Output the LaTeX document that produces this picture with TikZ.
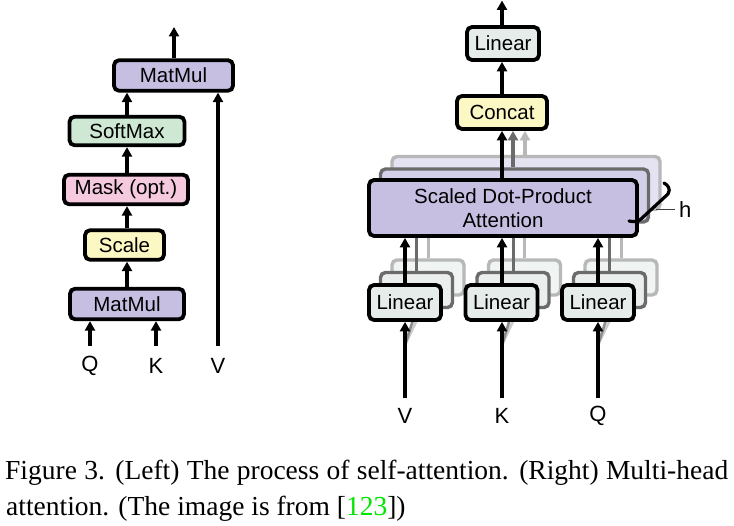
\documentclass[tikz,border=0pt]{standalone}
\usepackage{fontspec}
\setmainfont{Liberation Serif}
\newfontfamily\hv{Liberation Sans}
\usetikzlibrary{arrows.meta}
\definecolor{mmpurple}{RGB}{198,191,226}
\definecolor{smgreen}{RGB}{206,232,211}
\definecolor{mskpink}{RGB}{246,202,222}
\definecolor{sclyellow}{RGB}{252,248,196}
\definecolor{lingray}{RGB}{230,236,234}
\definecolor{refgreen}{RGB}{0,230,0}
\begin{document}
\begin{tikzpicture}[x=1pt,y=-1pt,
  box/.style={draw=black, line width=3.8pt, rounded corners=5pt, inner sep=0pt,
    align=center, font=\hv\fontsize{20.5}{24}\selectfont},
  shadowA/.style={draw=black!58, line width=3.4pt, rounded corners=5pt, inner sep=0pt},
  shadowB/.style={draw=black!28, line width=3.4pt, rounded corners=5pt, inner sep=0pt},
  lbl/.style={font=\hv\fontsize{22}{26}\selectfont, inner sep=0pt},
  arr/.style={line width=3.2pt, -{Triangle[length=9.5pt,width=10pt]}},
  arrA/.style={arr, draw=black!58},
  arrB/.style={arr, draw=black!28},
  captxt/.style={anchor=base west, inner sep=0pt, font=\fontsize{27.5}{35}\selectfont}
]
\useasboundingbox (0,0) rectangle (734,526);
\fill[white] (0,0) rectangle (734,526);

% ---------------- Left: scaled dot-product attention
\node[box, fill=mmpurple, minimum width=119pt, minimum height=30.5pt] (mmtop) at (173.5,75.5) {MatMul};
\node[box, fill=smgreen, minimum width=115pt, minimum height=28.5pt] (sm) at (127,131) {SoftMax};
\node[box, fill=mskpink, minimum width=124pt, minimum height=29.5pt] (mask) at (126,189.5) {Mask (opt.)};
\node[box, fill=sclyellow, minimum width=79pt, minimum height=29.5pt] (scl) at (124.5,245) {Scale};
\node[box, fill=mmpurple, minimum width=114pt, minimum height=30.5pt] (mmbot) at (127,304) {MatMul};

\node[lbl] (lq) at (90,366) {Q};
\node[lbl] (lk) at (156,366) {K};
\node[lbl] (lv) at (218,366) {V};
\coordinate (lqin) at (90,346);
\coordinate (lkin) at (156,346);
\coordinate (lvin) at (218,346);
\coordinate (lout) at (174,27);

\draw[arr] (lqin) -- (lqin |- mmbot.south);
\draw[arr] (lkin) -- (lkin |- mmbot.south);
\draw[arr] (lvin) -- (lvin |- mmtop.south);
\draw[arr] (mmbot.north) -- (mmbot.north |- scl.south);
\draw[arr] (mmbot.north |- scl.north) -- (mmbot.north |- mask.south);
\draw[arr] (mmbot.north |- mask.north) -- (mmbot.north |- sm.south);
\draw[arr] (mmbot.north |- sm.north) -- (mmbot.north |- mmtop.south);
\draw[arr] (mmtop.north -| lout) -- (lout);

% ---------------- Right: multi-head attention
\node[shadowB, fill=mmpurple!45, minimum width=268pt, minimum height=53pt] (att3) at (526,183) {};
\node[shadowA, fill=mmpurple!75, minimum width=268pt, minimum height=53pt] (att2) at (514.5,195.5) {};

\coordinate (rvin) at (405,398);
\coordinate (rkin) at (502,398);
\coordinate (rqin) at (598,398);
\coordinate (fanv) at (405,345);
\coordinate (fank) at (502,345);
\coordinate (fanq) at (598,345);

\foreach \n/\cx in {v/405, k/501.5, q/598}{
  \node[shadowB, fill=lingray!60, minimum width=72pt, minimum height=35pt] (lin3\n) at (\cx+23,277.5) {};
  \node[shadowA, fill=lingray!85, minimum width=72pt, minimum height=35pt] (lin2\n) at (\cx+11.5,290) {};
}
\foreach \n in {v,k,q}{
  \draw[line width=3pt, draw=black!28] (lin3\n.north) -- (lin3\n.north |- att3.south);
  \draw[line width=3pt, draw=black!58] (lin2\n.north) -- (lin2\n.north |- att2.south);
  \draw[line width=2.6pt, draw=black!20] (fan\n) -- (lin3\n.south);
  \draw[line width=2.6pt, draw=black!45] (fan\n) -- (lin2\n.south);
}

\node[box, fill=mmpurple, minimum width=268pt, minimum height=56pt] (att) at (503,208) {Scaled Dot-Product\\Attention};

\node[box, fill=lingray, minimum width=72pt, minimum height=35pt] (linv) at (405,302.5) {Linear};
\node[box, fill=lingray, minimum width=72pt, minimum height=35pt] (link) at (501.5,302.5) {Linear};
\node[box, fill=lingray, minimum width=72pt, minimum height=35pt] (linq) at (598,302.5) {Linear};

\node[lbl] (rv) at (405,416) {V};
\node[lbl] (rk) at (502,416) {K};
\node[lbl] (rq) at (598,416) {Q};

\draw[arr] (rvin) -- (rvin |- linv.south);
\draw[arr] (rkin) -- (rkin |- link.south);
\draw[arr] (rqin) -- (rqin |- linq.south);

\draw[arr] (rvin |- linv.north) -- (rvin |- att.south);
\draw[arr] (rkin |- link.north) -- (rkin |- att.south);
\draw[arr] (rqin |- linq.north) -- (rqin |- att.south);

\node[box, fill=sclyellow, minimum width=90pt, minimum height=33pt] (cc) at (502,112.5) {Concat};
\node[box, fill=lingray, minimum width=72pt, minimum height=33pt] (lo) at (503,43.5) {Linear};
\coordinate (rout) at (502,0.5);
\coordinate (g3) at (525,0);
\coordinate (g2) at (513,0);

\draw[arrB] (g3 |- att3.north) -- (g3 |- cc.south);
\draw[arrA] (g2 |- att2.north) -- (g2 |- cc.south);
\draw[arr] (att.north -| cc.south) -- (cc.south);
\draw[arr] (cc.north) -- (cc.north |- lo.south);
\draw[arr] (lo.north -| rout) -- (rout);

% brace for h
\coordinate (hb) at (656,210);
\coordinate (he) at (675,210);
\draw[line width=3.2pt, line cap=round, line join=round]
  (664,183) .. controls (668,185) and (671,189) .. (668,194) -- (641,219)
  .. controls (638,222) and (634,222) .. (629,221);
\draw[line width=1pt, black!75] (hb) -- (he);
\node[lbl, anchor=west] (hlab) at (679,210) {h};

% ---------------- caption
\node[captxt] (cap1) at (5,480) {\makebox[723pt][s]{Figure 3. (Left) The process of self-attention. (Right) Multi-head}};
\node[captxt] (cap2) at (6,515.5) {attention. (The image is from [\textcolor{refgreen}{123}])};
\end{tikzpicture}
\end{document}
